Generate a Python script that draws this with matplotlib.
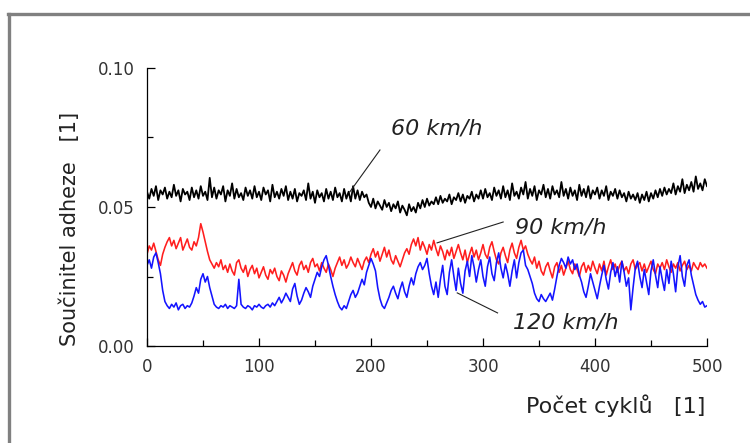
import numpy as np
import matplotlib
matplotlib.use("Agg")
import matplotlib.pyplot as plt
from matplotlib.lines import Line2D
from matplotlib.ticker import MultipleLocator, FormatStrFormatter

# ---- data (every 2 cycles) ----
cycles = list(range(0, 501, 2))

adh_60 = [
    0.0555, 0.0530, 0.0565, 0.0540, 0.0575, 0.0525, 0.0560, 0.0545, 0.0570, 0.0530,
    0.0555, 0.0535, 0.0580, 0.0540, 0.0560, 0.0520, 0.0565, 0.0545, 0.0555, 0.0525,
    0.0570, 0.0535, 0.0560, 0.0530, 0.0575, 0.0540, 0.0555, 0.0525, 0.0605, 0.0535,
    0.0570, 0.0530, 0.0560, 0.0545, 0.0575, 0.0520, 0.0560, 0.0540, 0.0585, 0.0530,
    0.0565, 0.0535, 0.0550, 0.0525, 0.0570, 0.0540, 0.0560, 0.0530, 0.0575, 0.0535,
    0.0555, 0.0525, 0.0570, 0.0545, 0.0560, 0.0520, 0.0580, 0.0535, 0.0555, 0.0530,
    0.0565, 0.0540, 0.0575, 0.0525, 0.0555, 0.0530, 0.0565, 0.0520, 0.0550, 0.0540,
    0.0560, 0.0525, 0.0585, 0.0530, 0.0555, 0.0515, 0.0560, 0.0535, 0.0550, 0.0520,
    0.0565, 0.0530, 0.0555, 0.0525, 0.0570, 0.0535, 0.0550, 0.0520, 0.0565, 0.0530,
    0.0555, 0.0520, 0.0575, 0.0530, 0.0560, 0.0525, 0.0555, 0.0535, 0.0545, 0.0515,
    0.0500, 0.0530, 0.0495, 0.0520, 0.0505, 0.0490, 0.0525, 0.0500, 0.0515, 0.0485,
    0.0510, 0.0495, 0.0520, 0.0480, 0.0505, 0.0490, 0.0470, 0.0510, 0.0485, 0.0500,
    0.0480, 0.0515, 0.0495, 0.0525, 0.0500, 0.0530, 0.0505, 0.0520, 0.0510, 0.0535,
    0.0510, 0.0540, 0.0515, 0.0530, 0.0520, 0.0545, 0.0510, 0.0535, 0.0525, 0.0550,
    0.0520, 0.0545, 0.0515, 0.0540, 0.0530, 0.0555, 0.0520, 0.0545, 0.0530, 0.0560,
    0.0530, 0.0565, 0.0535, 0.0550, 0.0525, 0.0570, 0.0540, 0.0560, 0.0530, 0.0575,
    0.0535, 0.0560, 0.0525, 0.0585, 0.0540, 0.0555, 0.0530, 0.0570, 0.0545, 0.0590,
    0.0530, 0.0565, 0.0540, 0.0575, 0.0525, 0.0560, 0.0545, 0.0580, 0.0535, 0.0565,
    0.0530, 0.0575, 0.0545, 0.0560, 0.0535, 0.0590, 0.0540, 0.0565, 0.0530, 0.0570,
    0.0540, 0.0560, 0.0525, 0.0580, 0.0540, 0.0565, 0.0535, 0.0575, 0.0530, 0.0560,
    0.0545, 0.0570, 0.0530, 0.0560, 0.0540, 0.0575, 0.0525, 0.0555, 0.0540, 0.0565,
    0.0530, 0.0560, 0.0535, 0.0550, 0.0520, 0.0555, 0.0530, 0.0545, 0.0525, 0.0550,
    0.0515, 0.0545, 0.0525, 0.0555, 0.0520, 0.0550, 0.0530, 0.0560, 0.0535, 0.0565,
    0.0540, 0.0570, 0.0545, 0.0565, 0.0550, 0.0585, 0.0545, 0.0575, 0.0555, 0.0600,
    0.0550, 0.0580, 0.0560, 0.0590, 0.0555, 0.0610, 0.0565, 0.0585, 0.0560, 0.0600,
    0.0575]

adh_90 = [
    0.0330, 0.0360, 0.0345, 0.0370, 0.0340, 0.0310, 0.0290, 0.0330, 0.0355, 0.0375,
    0.0390, 0.0360, 0.0380, 0.0350, 0.0370, 0.0390, 0.0345, 0.0365, 0.0385, 0.0355,
    0.0345, 0.0375, 0.0360, 0.0390, 0.0440, 0.0410, 0.0375, 0.0340, 0.0310, 0.0295,
    0.0280, 0.0300, 0.0285, 0.0310, 0.0275, 0.0290, 0.0265, 0.0295, 0.0270, 0.0255,
    0.0300, 0.0310, 0.0280, 0.0265, 0.0290, 0.0250, 0.0275, 0.0290, 0.0260, 0.0280,
    0.0245, 0.0265, 0.0285, 0.0255, 0.0240, 0.0275, 0.0260, 0.0280, 0.0250, 0.0235,
    0.0270, 0.0255, 0.0230, 0.0260, 0.0280, 0.0300, 0.0270, 0.0255, 0.0290, 0.0305,
    0.0275, 0.0290, 0.0265, 0.0300, 0.0315, 0.0285, 0.0295, 0.0270, 0.0300, 0.0280,
    0.0265, 0.0295, 0.0275, 0.0250, 0.0280, 0.0300, 0.0320, 0.0290, 0.0310, 0.0280,
    0.0295, 0.0320, 0.0300, 0.0285, 0.0315, 0.0295, 0.0275, 0.0305, 0.0320, 0.0300,
    0.0330, 0.0350, 0.0320, 0.0340, 0.0305, 0.0330, 0.0355, 0.0320, 0.0345, 0.0310,
    0.0295, 0.0325, 0.0305, 0.0285, 0.0310, 0.0335, 0.0350, 0.0330, 0.0365, 0.0385,
    0.0360, 0.0390, 0.0345, 0.0375, 0.0355, 0.0330, 0.0365, 0.0345, 0.0380, 0.0350,
    0.0325, 0.0360, 0.0340, 0.0310, 0.0345, 0.0325, 0.0355, 0.0315, 0.0340, 0.0365,
    0.0335, 0.0310, 0.0345, 0.0300, 0.0330, 0.0355, 0.0320, 0.0345, 0.0310, 0.0335,
    0.0365, 0.0330, 0.0315, 0.0355, 0.0375, 0.0340, 0.0310, 0.0295, 0.0335, 0.0355,
    0.0325, 0.0300, 0.0345, 0.0370, 0.0335, 0.0315, 0.0355, 0.0380, 0.0345, 0.0360,
    0.0330, 0.0310, 0.0295, 0.0320, 0.0280, 0.0305, 0.0270, 0.0255, 0.0285, 0.0300,
    0.0270, 0.0245, 0.0285, 0.0300, 0.0265, 0.0290, 0.0255, 0.0280, 0.0305, 0.0275,
    0.0260, 0.0295, 0.0275, 0.0250, 0.0285, 0.0300, 0.0265, 0.0290, 0.0270, 0.0305,
    0.0280, 0.0260, 0.0295, 0.0270, 0.0305, 0.0255, 0.0285, 0.0310, 0.0275, 0.0295,
    0.0265, 0.0290, 0.0305, 0.0270, 0.0285, 0.0260, 0.0295, 0.0310, 0.0275, 0.0290,
    0.0300, 0.0270, 0.0295, 0.0265, 0.0285, 0.0305, 0.0275, 0.0260, 0.0295, 0.0280,
    0.0300, 0.0275, 0.0310, 0.0285, 0.0265, 0.0295, 0.0280, 0.0300, 0.0270, 0.0290,
    0.0305, 0.0275, 0.0290, 0.0270, 0.0300, 0.0285, 0.0275, 0.0300, 0.0285, 0.0295,
    0.0280]

adh_120 = [
    0.0290, 0.0310, 0.0280, 0.0320, 0.0335, 0.0300, 0.0260, 0.0200, 0.0160, 0.0145,
    0.0135, 0.0150, 0.0140, 0.0155, 0.0130, 0.0145, 0.0150, 0.0135, 0.0145, 0.0140,
    0.0155, 0.0180, 0.0210, 0.0190, 0.0240, 0.0260, 0.0230, 0.0250, 0.0210, 0.0180,
    0.0150, 0.0140, 0.0135, 0.0145, 0.0140, 0.0150, 0.0135, 0.0145, 0.0140, 0.0135,
    0.0145, 0.0240, 0.0150, 0.0140, 0.0135, 0.0145, 0.0140, 0.0130, 0.0145, 0.0140,
    0.0150, 0.0140, 0.0135, 0.0145, 0.0150, 0.0140, 0.0155, 0.0145, 0.0160, 0.0175,
    0.0155, 0.0170, 0.0190, 0.0175, 0.0160, 0.0205, 0.0225, 0.0180, 0.0150, 0.0165,
    0.0190, 0.0210, 0.0195, 0.0175, 0.0215, 0.0240, 0.0265, 0.0250, 0.0285, 0.0310,
    0.0325, 0.0290, 0.0250, 0.0215, 0.0185, 0.0160, 0.0140, 0.0130, 0.0145, 0.0135,
    0.0160, 0.0185, 0.0200, 0.0175, 0.0190, 0.0215, 0.0240, 0.0220, 0.0265, 0.0290,
    0.0315, 0.0295, 0.0270, 0.0210, 0.0170, 0.0145, 0.0135, 0.0155, 0.0175, 0.0200,
    0.0215, 0.0190, 0.0170, 0.0205, 0.0230, 0.0195, 0.0175, 0.0215, 0.0245, 0.0220,
    0.0260, 0.0285, 0.0300, 0.0275, 0.0290, 0.0315, 0.0260, 0.0215, 0.0185, 0.0230,
    0.0175, 0.0240, 0.0290, 0.0215, 0.0185, 0.0265, 0.0310, 0.0250, 0.0200, 0.0280,
    0.0225, 0.0190, 0.0270, 0.0305, 0.0250, 0.0325, 0.0285, 0.0230, 0.0275, 0.0310,
    0.0250, 0.0215, 0.0285, 0.0320, 0.0260, 0.0235, 0.0300, 0.0335, 0.0280, 0.0245,
    0.0295, 0.0260, 0.0215, 0.0270, 0.0310, 0.0245, 0.0300, 0.0335, 0.0345, 0.0290,
    0.0275, 0.0250, 0.0225, 0.0190, 0.0170, 0.0160, 0.0185, 0.0170, 0.0160, 0.0175,
    0.0190, 0.0165, 0.0205, 0.0250, 0.0290, 0.0315, 0.0300, 0.0280, 0.0320, 0.0295,
    0.0310, 0.0275, 0.0295, 0.0255, 0.0230, 0.0195, 0.0175, 0.0215, 0.0260, 0.0230,
    0.0200, 0.0170, 0.0215, 0.0255, 0.0290, 0.0240, 0.0205, 0.0265, 0.0300, 0.0250,
    0.0285, 0.0230, 0.0305, 0.0265, 0.0215, 0.0245, 0.0130, 0.0210, 0.0280, 0.0305,
    0.0250, 0.0210, 0.0275, 0.0230, 0.0185, 0.0270, 0.0310, 0.0255, 0.0210, 0.0285,
    0.0240, 0.0200, 0.0275, 0.0225, 0.0305, 0.0260, 0.0195, 0.0285, 0.0325, 0.0250,
    0.0215, 0.0290, 0.0310, 0.0255, 0.0220, 0.0185, 0.0165, 0.0150, 0.0160, 0.0140,
    0.0145]

series_labels = ["60 km/h", "90 km/h", "120 km/h"]
x_label = "Počet cyklů   [1]"
y_label = "Součinitel adheze   [1]"

# ---- figure ----
fig = plt.figure(figsize=(7.5, 4.43), dpi=100)
W, H = 750, 443
ax = fig.add_axes([147 / W, 1 - 346 / H, 560 / W, 278 / H])

ax.plot(cycles, adh_60, color="#000000", lw=1.3)
ax.plot(cycles, adh_90, color="#ff1e1e", lw=1.15)
ax.plot(cycles, adh_120, color="#1414ff", lw=1.15)

ax.set_xlim(0, 500)
ax.set_ylim(0.0, 0.10)
ax.xaxis.set_major_locator(MultipleLocator(100))
ax.xaxis.set_minor_locator(MultipleLocator(50))
ax.yaxis.set_major_locator(MultipleLocator(0.05))
ax.yaxis.set_minor_locator(MultipleLocator(0.025))
ax.yaxis.set_major_formatter(FormatStrFormatter("%.2f"))

for s in ["top", "right"]:
    ax.spines[s].set_visible(False)
for s in ["left", "bottom"]:
    ax.spines[s].set_linewidth(0.9)

ax.tick_params(which="major", direction="in", length=6, width=0.9,
               labelsize=12, labelcolor="#333333", pad=9)
ax.tick_params(which="minor", direction="in", length=4, width=0.9)

ax.set_xlabel(x_label, fontsize=16, color="#222222")
ax.xaxis.set_label_coords(0.8375, -0.175)
ax.set_ylabel(y_label, fontsize=15, color="#222222")
ax.yaxis.set_label_coords(-0.12, 0.42)

# annotations
ax.text(218, 0.0781, series_labels[0], fontsize=16, style="italic",
        color="#222222", va="center", ha="left")
ax.plot([208, 181], [0.0705, 0.0554], color="#222222", lw=0.8)
ax.text(329, 0.0428, series_labels[1], fontsize=16, style="italic",
        color="#222222", va="center", ha="left")
ax.plot([318, 259], [0.0446, 0.0371], color="#222222", lw=0.8)
ax.text(327, 0.0083, series_labels[2], fontsize=16, style="italic",
        color="#222222", va="center", ha="left")
ax.plot([313, 277], [0.0119, 0.0191], color="#222222", lw=0.8)

# gray frame around the figure (left and top visible)
fig.add_artist(Line2D([9 / W, 9 / W], [0, 1 - 13.5 / H], transform=fig.transFigure,
                      color="#808080", lw=2.4))
fig.add_artist(Line2D([7.8 / W, 1], [1 - 13.5 / H, 1 - 13.5 / H], transform=fig.transFigure,
                      color="#808080", lw=2.4))

fig.savefig("out.png", dpi=100)
